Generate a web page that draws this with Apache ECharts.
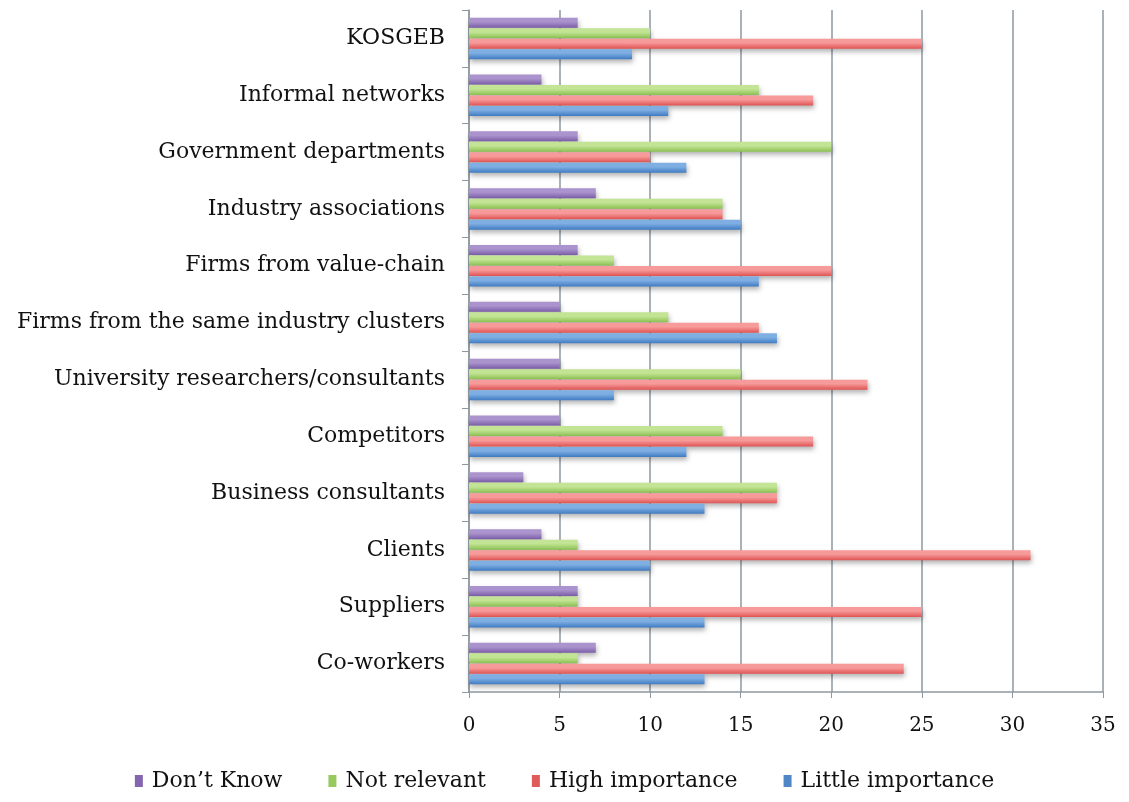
<!DOCTYPE html>
<html>
<head>
<meta charset="utf-8">
<script src="https://cdn.jsdelivr.net/npm/echarts@6/dist/echarts.min.js"></script>
<style>
html, body { margin: 0; padding: 0; background: #fff; }
#main { width: 1129px; height: 802px; }
</style>
</head>
<body>
<div id="main"></div>
<script>
// categories listed bottom to top
var categories = ['Co-workers', 'Suppliers', 'Clients', 'Business consultants', 'Competitors',
    'University researchers/consultants', 'Firms from the same industry clusters',
    'Firms from value-chain', 'Industry associations', 'Government departments',
    'Informal networks', 'KOSGEB'];

var dontKnow         = [7, 6, 4, 3, 5, 5, 5, 6, 7, 6, 4, 6];
var notRelevant      = [6, 6, 6, 17, 14, 15, 11, 8, 14, 20, 16, 10];
var highImportance   = [24, 25, 31, 17, 19, 22, 16, 20, 14, 10, 19, 25];
var littleImportance = [13, 13, 10, 13, 12, 8, 17, 16, 15, 12, 11, 9];

var xTicks = { min: 0, max: 35, step: 5 };

var font = '"DejaVu Serif", "Liberation Serif", serif';

function grad(light, dark) {
    return new echarts.graphic.LinearGradient(0, 0, 0, 1, [
        { offset: 0, color: light },
        { offset: 0.4, color: light },
        { offset: 1, color: dark }
    ]);
}

function bar(name, data, light, dark) {
    return {
        name: name,
        type: 'bar',
        data: data,
        barWidth: 10,
        barGap: '5%',
        itemStyle: {
            color: grad(light, dark),
            shadowColor: 'rgba(0,0,0,0.3)',
            shadowBlur: 5,
            shadowOffsetY: 3,
            shadowOffsetX: 1
        }
    };
}

// first series sits at the top of each band
var series = [
    bar('Don\u2019t Know', dontKnow, '#ab93cd', '#7b5ea8'),
    bar('Not relevant', notRelevant, '#c2e494', '#8cc152'),
    bar('High importance', highImportance, '#f79a9a', '#e05454'),
    bar('Little importance', littleImportance, '#7eaee2', '#3f7bc2')
];

var swatches = {
    'Don\u2019t Know': '#8465b0',
    'Not relevant': '#98c95e',
    'High importance': '#e05c5c',
    'Little importance': '#4f86c6'
};

var chart = echarts.init(document.getElementById('main'));
chart.setOption({
    animation: false,
    backgroundColor: '#fff',
    grid: { left: 469, right: 26, top: 10, bottom: 110 },
    legend: {
        data: series.map(function(s) {
            return { name: s.name, itemStyle: { color: swatches[s.name], shadowBlur: 0, shadowOffsetX: 0, shadowOffsetY: 0 } };
        }),
        bottom: 5,
        left: 'center',
        icon: 'rect',
        itemWidth: 8,
        itemHeight: 12,
        itemGap: 46,
        textStyle: { fontFamily: font, fontSize: 22, color: '#111', padding: [0, 0, 0, 4] }
    },
    xAxis: {
        type: 'value',
        min: xTicks.min,
        max: xTicks.max,
        interval: xTicks.step,
        axisLine: { show: true, lineStyle: { color: '#8e98a0', width: 1.5 } },
        axisTick: { show: true, length: 6, lineStyle: { color: '#8e98a0' } },
        splitLine: { show: true, lineStyle: { color: '#8e98a0', width: 1.5 } },
        axisLabel: { fontFamily: font, fontSize: 20, color: '#111', margin: 24 }
    },
    yAxis: {
        type: 'category',
        data: categories,
        axisLine: { show: true, lineStyle: { color: '#8e98a0', width: 1.5 } },
        axisTick: { show: true, length: 7, lineStyle: { color: '#8e98a0' } },
        axisLabel: { fontFamily: font, fontSize: 22, color: '#111', margin: 24 }
    },
    series: series
});
</script>
</body>
</html>
